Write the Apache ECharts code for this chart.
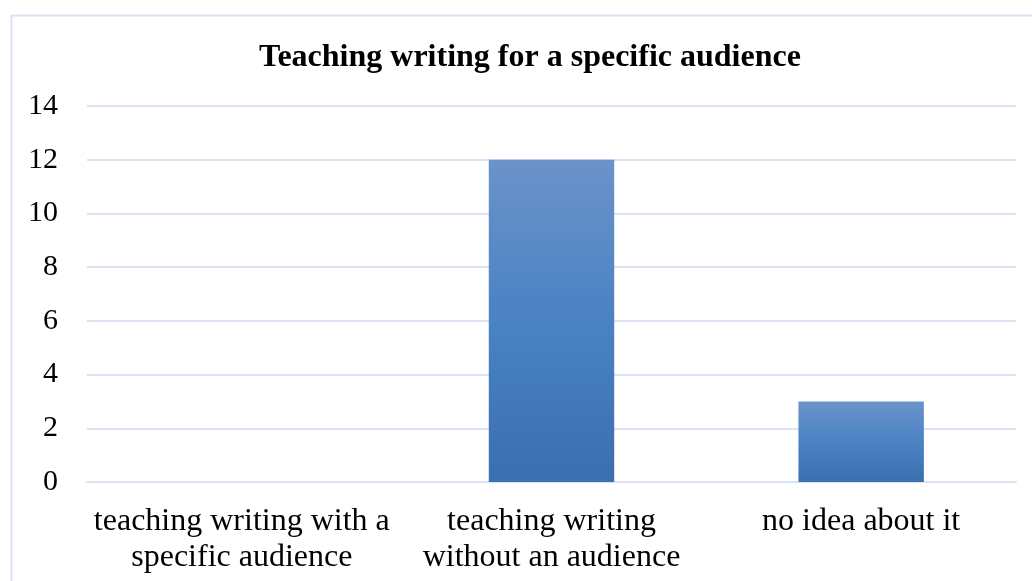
<!DOCTYPE html>
<html><head><meta charset="utf-8">
<script src="https://cdn.jsdelivr.net/npm/echarts@6/dist/echarts.min.js"></script>
<style>html,body{margin:0;padding:0;background:#fff;}#c{width:1032px;height:581px;}</style>
</head><body><div id="c"></div>
<script>
const categories = ["teaching writing with a\nspecific audience", "teaching writing\nwithout an audience", "no idea about it"];
const values = [0, 12, 3];
const title = "Teaching writing for a specific audience";

const chart = echarts.init(document.getElementById('c'));
const font = '"Liberation Serif", "Times New Roman", serif';
chart.setOption({
  animation: false,
  textStyle: {fontFamily: font},
  title: {text: title, left: 254, top: 37, textStyle: {fontFamily: font, fontSize: 32, fontWeight: 'bold', color: '#000'}},
  graphic: [{type: 'rect', left: 9, top: 13, shape: {x: 0, y: 0, width: 1040, height: 620}, style: {fill: 'none', stroke: '#d9e3f3', lineWidth: 2}, silent: true, z: -1}],
  grid: {left: 87, right: 16, top: 106, bottom: 99, containLabel: false},
  xAxis: {
    type: 'category', data: categories,
    axisLine: {show: true, lineStyle: {color: '#d9e3f3', width: 2}},
    axisTick: {show: false},
    axisLabel: {fontFamily: font, fontSize: 32, color: '#000', lineHeight: 36, margin: 22, interval: 0}
  },
  yAxis: {
    type: 'value', min: 0, max: 14, interval: 2,
    axisLine: {show: false}, axisTick: {show: false},
    splitLine: {lineStyle: {color: '#d9e3f3', width: 2}},
    axisLabel: {fontFamily: font, fontSize: 30, color: '#000', margin: 29}
  },
  series: [{
    type: 'bar', data: values, barWidth: '40.5%',
    itemStyle: {color: new echarts.graphic.LinearGradient(0, 0, 0, 1, [
      {offset: 0, color: '#6b93c9'}, {offset: 0.5, color: '#4a82c4'}, {offset: 1, color: '#3a6fb0'}
    ])}
  }]
});
</script></body></html>
